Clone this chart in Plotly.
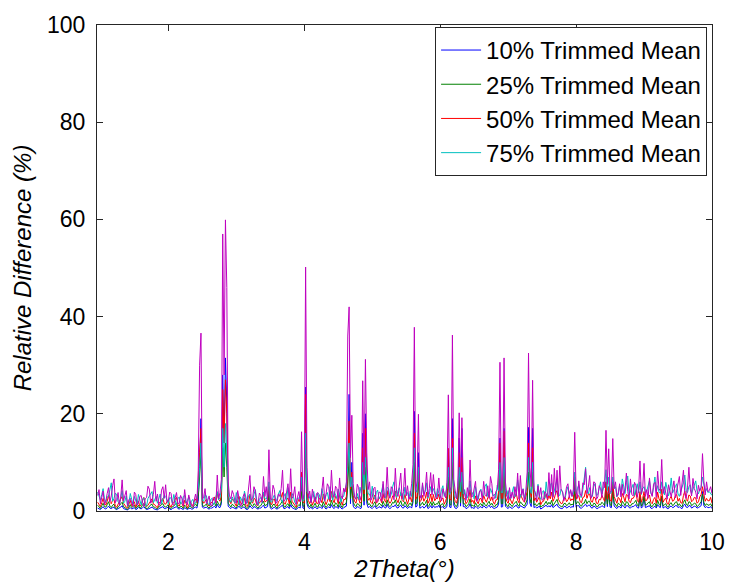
import plotly.graph_objects as go

# sample grid of 2Theta (degrees): 0.96, 0.98, ..., 10.00
X_START = 0.96
X_STEP = 0.02
N_PTS = 453
two_theta = [round(X_START + X_STEP * k, 2) for k in range(N_PTS)]

# relative differences (%); each row = 1 degree (50 samples)
mean10_rows = [  # blue
    [0.6, 0.4, 0.3, 0.6, 0.9, 0.5, 0.4, 0.7, 1.0, 0.6, 0.5, 0.7, 0.8, 0.4, 0.3, 0.5, 0.6, 0.8, 1.1, 0.5, 0.4, 0.3, 0.2, 0.5, 0.7, 0.4, 0.5, 0.7, 0.3, 0.4, 0.8, 0.5, 0.4, 0.7, 0.9, 0.5, 0.3, 0.4, 0.5, 0.7, 0.8, 0.5, 0.4, 0.3, 0.2, 0.5, 0.6, 0.8, 0.9, 0.5],
    [0.5, 0.7, 0.8, 0.4, 0.3, 0.5, 0.6, 0.8, 0.9, 0.5, 0.4, 0.6, 0.5, 0.3, 0.7, 0.5, 0.3, 0.5, 0.6, 0.4, 0.4, 0.7, 0.8, 0.6, 2.0, 10, 19, 0.8, 0.6, 0.7, 0.8, 0.5, 0.4, 0.6, 0.6, 0.8, 1.0, 0.6, 1.4, 0.8, 0.7, 1.5, 28, 14, 31.5, 22, 1.0, 0.7, 0.5, 0.8],
    [0.7, 0.5, 0.4, 0.7, 1.0, 0.6, 0.5, 0.8, 0.8, 0.4, 0.3, 0.5, 1.1, 0.7, 0.5, 0.9, 0.8, 0.5, 0.4, 0.6, 0.6, 0.9, 1.2, 0.6, 0.7, 0.9, 4, 0.6, 0.4, 0.7, 0.8, 0.5, 0.4, 0.6, 0.7, 1.0, 1.2, 0.5, 0.5, 0.8, 0.9, 0.5, 1.3, 0.7, 0.5, 0.4, 0.3, 0.6, 0.8, 0.6],
    [6, 0.6, 0.5, 25.5, 1.5, 0.7, 0.5, 0.8, 0.4, 0.6, 0.9, 0.5, 0.5, 0.8, 0.8, 0.5, 1.1, 0.7, 0.4, 0.6, 0.9, 0.6, 1.3, 0.7, 0.5, 0.9, 0.8, 0.5, 1.1, 0.6, 0.4, 0.7, 0.8, 1.0, 8, 24, 1.5, 10, 1.0, 0.6, 0.5, 0.9, 0.8, 0.5, 0.6, 16, 1.2, 20, 1.6, 0.7],
    [0.9, 0.6, 0.5, 0.8, 1.1, 0.5, 0.6, 0.9, 0.8, 0.6, 1.2, 0.7, 0.6, 1.4, 0.7, 0.5, 0.7, 1.0, 0.9, 1.3, 0.7, 0.6, 1.0, 1.2, 0.7, 0.6, 1.1, 0.7, 0.5, 0.8, 0.9, 0.6, 1.8, 20.5, 0.8, 1.0, 12, 0.6, 0.7, 1.0, 0.6, 0.8, 1.3, 0.5, 0.7, 1.1, 0.6, 1.1, 0.7, 0.9],
    [0.8, 1.2, 0.6, 0.8, 0.9, 0.5, 0.6, 1.0, 12, 0.8, 0.7, 19, 1.2, 0.6, 0.5, 0.9, 15, 1.0, 17, 0.9, 0.9, 0.5, 0.6, 0.9, 1.5, 0.6, 0.7, 0.5, 1.0, 0.7, 0.5, 0.8, 0.9, 0.6, 1.1, 0.8, 0.6, 0.9, 1.2, 0.7, 1.0, 0.6, 0.5, 0.7, 0.8, 1.4, 15, 0.8, 0.9, 17],
    [1.0, 0.7, 0.5, 0.9, 0.6, 0.5, 0.8, 1.0, 1.2, 0.7, 0.6, 1.1, 0.9, 0.7, 0.6, 1.0, 1.4, 17.2, 1.6, 0.9, 17, 0.7, 0.9, 0.6, 0.8, 1.0, 0.4, 0.6, 0.7, 0.9, 1.2, 0.8, 1.1, 0.8, 1.3, 0.7, 0.9, 1.2, 1.4, 0.8, 0.6, 0.5, 0.5, 0.9, 1.0, 0.6, 0.8, 1.0, 0.7, 0.9],
    [0.8, 6, 0.8, 1.1, 1.1, 0.6, 0.6, 0.9, 1.0, 1.4, 0.9, 1.2, 1.2, 0.7, 0.6, 1.0, 0.9, 0.5, 0.5, 0.8, 0.8, 1.1, 0.9, 0.7, 6, 0.9, 5, 0.8, 0.7, 6, 1.0, 0.8, 0.5, 0.9, 0.9, 0.6, 1.2, 1.0, 0.6, 1.1, 1.1, 0.7, 0.6, 0.9, 0.9, 1.1, 1.3, 0.7, 0.6, 3],
    [0.6, 0.9, 3, 0.7, 0.8, 1.0, 1.1, 0.6, 0.5, 0.8, 1.0, 0.6, 1.3, 0.9, 0.7, 3, 0.6, 0.8, 0.9, 0.5, 0.5, 0.9, 1.0, 0.7, 0.8, 1.1, 1.1, 0.7, 0.9, 0.6, 0.5, 1.1, 1.4, 0.8, 0.7, 1.1, 1.1, 0.6, 0.8, 1.0, 0.9, 0.6, 0.7, 1.0, 1.1, 4, 1.1, 0.7, 0.9, 0.7],
    [0.7, 0.9, 0.5],
]
mean25_rows = [  # green
    [1.2, 0.8, 0.5, 1.1, 1.6, 0.9, 0.8, 1.3, 1.9, 1.0, 0.7, 1.2, 1.4, 0.6, 0.4, 0.9, 1.1, 1.5, 1.8, 0.9, 0.6, 0.5, 0.3, 0.9, 1.3, 0.7, 0.9, 1.2, 0.5, 0.8, 1.2, 0.6, 0.7, 1.3, 1.5, 0.9, 0.4, 0.7, 0.9, 1.3, 1.4, 0.8, 0.8, 0.5, 0.4, 1.0, 1.0, 1.4, 1.5, 0.9],
    [0.8, 1.1, 1.3, 0.7, 0.5, 0.9, 1.0, 1.4, 1.6, 0.8, 0.6, 1.0, 0.9, 0.5, 1.2, 0.9, 0.4, 0.8, 1.1, 0.7, 0.6, 1.2, 1.4, 1.0, 3.0, 7, 12, 1.3, 0.9, 1.2, 1.4, 0.8, 0.6, 1.0, 1.0, 1.3, 1.7, 1.0, 2.0, 1.4, 1.1, 2.0, 13, 7, 14, 9, 1.6, 1.2, 0.8, 1.4],
    [1.2, 0.9, 0.6, 1.2, 1.7, 1.0, 0.8, 1.3, 1.4, 0.7, 0.5, 0.9, 1.9, 1.2, 0.9, 1.5, 1.3, 0.8, 0.6, 1.0, 1.1, 1.6, 2.0, 1.1, 1.2, 1.4, 3, 1.0, 0.7, 1.3, 1.4, 0.8, 0.6, 1.1, 1.2, 1.6, 2.1, 0.9, 0.8, 1.3, 1.5, 0.9, 2.2, 1.2, 0.9, 0.6, 0.5, 1.0, 1.3, 1.1],
    [4, 1.1, 0.9, 15, 2.2, 1.2, 0.8, 1.4, 0.7, 1.1, 1.6, 0.9, 0.8, 1.5, 1.3, 0.9, 1.9, 1.2, 0.7, 1.1, 1.5, 1.0, 2.2, 1.3, 0.9, 1.7, 1.4, 0.8, 1.9, 1.1, 0.7, 1.4, 1.3, 1.8, 5, 12, 2.5, 5, 1.8, 1.2, 0.9, 1.5, 1.4, 0.9, 1.1, 8, 2.0, 9, 2.6, 1.3],
    [1.5, 1.0, 0.9, 1.5, 1.9, 0.9, 1.1, 1.6, 1.4, 1.0, 2.0, 1.3, 1.0, 2.3, 1.2, 0.9, 1.2, 1.8, 1.6, 2.3, 1.3, 1.0, 1.7, 2.1, 1.2, 1.1, 1.9, 1.3, 0.8, 1.4, 1.6, 1.1, 2.6, 10, 1.4, 1.8, 6, 1.1, 1.3, 1.8, 1.2, 1.5, 2.2, 0.9, 1.2, 1.9, 1.1, 1.9, 1.2, 1.5],
    [1.4, 2.0, 1.0, 1.4, 1.5, 0.8, 1.1, 1.8, 7, 1.4, 1.2, 10, 2.0, 1.1, 0.9, 1.6, 7, 1.7, 6, 1.5, 1.5, 0.9, 1.1, 1.5, 2.5, 1.0, 1.2, 0.9, 1.7, 1.1, 0.9, 1.4, 1.5, 1.0, 1.8, 1.3, 1.0, 1.6, 2.0, 1.2, 1.6, 1.1, 0.8, 1.3, 1.3, 2.2, 8, 1.5, 1.5, 9],
    [1.7, 1.1, 0.9, 1.6, 1.1, 0.9, 1.4, 1.7, 2.0, 1.2, 1.0, 1.9, 1.5, 1.2, 1.0, 1.7, 2.3, 8, 2.5, 1.6, 8, 1.2, 1.5, 1.0, 1.4, 1.7, 0.8, 1.1, 1.1, 1.5, 2.0, 1.3, 1.8, 1.4, 2.2, 1.1, 1.5, 2.1, 2.4, 1.4, 1.1, 0.9, 0.9, 1.5, 1.6, 1.1, 1.3, 1.7, 1.2, 1.4],
    [1.3, 4, 1.4, 1.9, 1.8, 1.1, 1.0, 1.6, 1.6, 2.4, 1.5, 2.0, 2.0, 1.2, 1.0, 1.6, 1.5, 0.9, 0.9, 1.4, 1.3, 1.8, 1.5, 1.1, 4, 1.4, 3.5, 1.3, 1.1, 4, 1.7, 1.3, 0.9, 1.6, 1.4, 1.0, 2.0, 1.6, 1.1, 1.9, 1.8, 1.1, 1.0, 1.5, 1.5, 1.8, 2.2, 1.2, 1.0, 3],
    [1.0, 1.5, 3, 1.2, 1.3, 1.7, 1.9, 1.0, 0.9, 1.4, 1.6, 0.9, 2.2, 1.4, 1.1, 3, 1.0, 1.3, 1.5, 0.9, 0.8, 1.5, 1.7, 1.1, 1.3, 1.8, 1.9, 1.1, 1.5, 1.0, 0.9, 1.8, 2.3, 1.4, 1.1, 1.9, 1.8, 1.1, 1.3, 1.6, 1.5, 0.9, 1.1, 1.6, 1.9, 3.5, 1.8, 1.1, 1.5, 1.2],
    [1.2, 1.5, 0.9],
]
mean50_rows = [  # red
    [1.8, 1.2, 0.9, 1.7, 2.6, 1.5, 1.2, 2.0, 3.2, 1.8, 1.5, 2.3, 2.4, 1.0, 0.8, 1.4, 1.9, 2.5, 3.0, 1.6, 1.1, 0.8, 0.6, 1.5, 2.2, 1.1, 1.4, 1.9, 0.8, 1.3, 2.0, 1.0, 1.2, 2.1, 2.8, 1.5, 0.9, 1.2, 1.6, 2.2, 2.5, 1.4, 1.3, 0.9, 0.7, 1.6, 1.8, 2.2, 2.6, 1.5],
    [1.4, 1.9, 2.3, 1.2, 0.8, 1.5, 1.7, 2.4, 2.8, 1.3, 1.0, 1.8, 1.5, 0.9, 2.2, 1.6, 0.7, 1.2, 1.9, 1.4, 1.1, 2.0, 2.5, 1.7, 5.0, 12, 17, 2.1, 1.6, 2.0, 2.4, 1.3, 1.0, 1.6, 1.8, 2.2, 2.9, 1.8, 3.6, 2.4, 2.0, 3.2, 25, 14, 27, 20, 3.0, 2.1, 1.5, 2.4],
    [2.2, 1.5, 1.0, 2.1, 3.0, 1.8, 1.4, 2.2, 2.6, 1.2, 0.9, 1.6, 3.4, 2.0, 1.6, 2.6, 2.4, 1.3, 1.1, 1.8, 1.9, 2.7, 3.6, 1.9, 2.0, 2.4, 5, 1.7, 1.3, 2.2, 2.5, 1.4, 1.0, 1.9, 2.2, 2.8, 3.8, 1.6, 1.4, 2.3, 2.7, 1.5, 3.9, 2.0, 1.6, 1.1, 0.8, 1.7, 2.4, 1.9],
    [8, 1.9, 1.6, 24, 4.0, 2.2, 1.5, 2.4, 1.2, 2.0, 2.9, 1.6, 1.5, 2.6, 2.4, 1.7, 3.5, 2.2, 1.3, 2.0, 2.8, 1.9, 4.0, 2.3, 1.7, 3.0, 2.6, 1.5, 3.4, 2.1, 1.2, 2.4, 2.3, 3.0, 9, 18.5, 4.5, 8, 3.2, 2.0, 1.6, 2.9, 2.5, 1.6, 1.9, 13, 3.5, 17, 5, 2.2],
    [2.6, 1.8, 1.5, 2.7, 3.3, 1.6, 1.9, 2.8, 2.4, 1.7, 3.6, 2.2, 1.8, 4.2, 2.1, 1.6, 2.0, 3.1, 2.9, 4.1, 2.3, 1.7, 3.0, 3.8, 2.2, 1.9, 3.4, 2.2, 1.4, 2.5, 2.8, 1.9, 4.5, 16, 2.4, 3.0, 8, 1.9, 2.2, 3.2, 2.0, 2.6, 3.9, 1.6, 2.1, 3.5, 1.9, 3.4, 2.1, 2.6],
    [2.5, 3.5, 1.8, 2.4, 2.7, 1.4, 2.0, 3.1, 12.9, 2.5, 2.2, 14.9, 3.4, 2.0, 1.6, 2.8, 12, 3.0, 11, 2.6, 2.6, 1.5, 1.9, 2.6, 4.4, 1.8, 2.2, 1.5, 3.1, 2.0, 1.5, 2.5, 2.6, 1.7, 3.2, 2.4, 1.8, 2.7, 3.5, 2.1, 2.9, 1.9, 1.4, 2.3, 2.3, 4.0, 14, 2.6, 2.6, 16.5],
    [3.0, 2.0, 1.6, 2.8, 1.9, 1.5, 2.4, 3.0, 3.6, 2.2, 1.7, 3.4, 2.6, 2.2, 1.8, 2.9, 4.0, 14, 4.5, 2.8, 13, 2.1, 2.7, 1.8, 2.4, 3.0, 1.3, 1.9, 2.0, 2.6, 3.5, 2.2, 3.2, 2.5, 3.9, 2.0, 2.6, 3.7, 4.2, 2.4, 1.9, 1.5, 1.6, 2.7, 2.8, 1.9, 2.3, 3.0, 2.1, 2.5],
    [2.2, 7, 2.4, 3.3, 3.1, 1.9, 1.7, 2.8, 2.9, 4.2, 2.6, 3.5, 3.5, 2.0, 1.8, 2.9, 2.7, 1.6, 1.5, 2.4, 2.3, 3.2, 2.6, 2.0, 6, 2.4, 5, 2.2, 2.0, 6, 3.0, 2.3, 1.6, 2.8, 2.5, 1.7, 3.6, 2.9, 1.9, 3.4, 3.2, 2.0, 1.7, 2.6, 2.6, 3.1, 4, 2.2, 1.8, 4],
    [1.8, 2.6, 4, 2.1, 2.2, 3.0, 3.3, 1.8, 1.5, 2.4, 2.8, 1.6, 3.9, 2.5, 2.0, 4.5, 1.8, 2.3, 2.7, 1.5, 1.4, 2.6, 3.0, 2.0, 2.2, 3.1, 3.4, 2.0, 2.6, 1.7, 1.6, 3.2, 4.1, 2.4, 2.0, 3.3, 3.1, 1.9, 2.2, 2.8, 2.7, 1.6, 1.9, 2.9, 3.4, 5, 3.2, 2.0, 2.6, 2.1],
    [2.1, 2.8, 1.6],
]
mean75_rows = [  # cyan
    [3.9, 2.8, 2.2, 3.4, 4.6, 2.5, 1.8, 2.9, 3.0, 4.4, 5.8, 2.0, 2.6, 3.7, 3.3, 1.9, 1.5, 2.8, 4.2, 1.6, 2.0, 3.1, 0.9, 1.8, 3.6, 2.4, 1.4, 3.0, 2.3, 1.3, 3.4, 2.2, 1.2, 2.5, 2.7, 1.4, 1.0, 2.6, 3.1, 3.8, 4.0, 1.7, 2.2, 3.0, 1.6, 2.7, 3.5, 1.5, 2.4, 3.3],
    [3.0, 2.1, 1.5, 2.8, 2.6, 1.6, 3.4, 2.2, 1.1, 2.5, 2.9, 1.4, 1.8, 3.0, 3.2, 1.7, 2.1, 2.9, 1.0, 2.0, 2.4, 1.5, 1.6, 2.6, 4.6, 9, 14, 2.2, 2.0, 3.4, 3.1, 1.6, 1.2, 2.3, 2.6, 1.3, 1.5, 2.9, 4.0, 2.3, 2.8, 4.5, 17, 9, 18, 12, 3.6, 2.4, 1.8, 2.9],
    [2.4, 1.6, 3.8, 2.5, 1.4, 2.9, 2.2, 1.5, 4.1, 2.6, 1.6, 3.1, 3.5, 1.8, 2.0, 3.4, 4.4, 2.2, 1.2, 2.4, 2.8, 1.7, 3.9, 2.6, 2.4, 3.2, 6.0, 2.0, 1.8, 2.7, 3.3, 1.9, 2.5, 3.5, 4.2, 2.3, 1.7, 3.0, 3.6, 2.2, 4.8, 2.5, 2.1, 3.6, 3.0, 1.8, 1.3, 2.7, 2.6, 3.3],
    [7, 2.0, 2.3, 16, 4.0, 3.5, 2.4, 1.9, 3.2, 4.0, 2.1, 2.6, 3.7, 3.4, 2.2, 4.6, 3.0, 2.0, 3.4, 3.8, 2.4, 5.0, 3.1, 2.2, 4.0, 3.3, 2.6, 4.5, 3.5, 1.8, 2.9, 3.0, 4.1, 5.5, 9, 14, 5.0, 7, 4.2, 2.8, 2.5, 3.6, 2.4, 4.9, 3.6, 10, 4.4, 11, 6, 3.5],
    [3.5, 2.6, 5.1, 3.2, 2.4, 3.8, 4.3, 2.5, 3.0, 4.2, 5.5, 3.0, 2.6, 4.9, 4.6, 2.8, 3.4, 5.0, 6.0, 3.3, 2.8, 4.2, 4.8, 3.1, 3.6, 2.2, 4.9, 3.4, 3.8, 2.6, 4.1, 3.0, 6.5, 13, 4.4, 3.8, 9, 3.2, 2.7, 5.4, 3.5, 4.0, 5.8, 2.6, 3.4, 5.0, 3.9, 4.6, 3.4, 2.8],
    [4.6, 3.9, 2.8, 4.4, 5.2, 3.0, 3.6, 4.8, 9, 3.4, 4.1, 13, 5.0, 3.0, 2.6, 4.4, 9, 4.0, 8, 3.5, 4.4, 2.7, 2.7, 3.9, 6.2, 3.2, 3.8, 2.5, 5.0, 3.3, 2.4, 4.0, 4.5, 2.9, 3.2, 5.1, 5.6, 3.0, 2.9, 4.6, 4.0, 3.1, 3.5, 2.6, 5.3, 4.2, 10, 3.8, 3.8, 11],
    [4.4, 3.0, 4.2, 2.6, 2.6, 3.9, 5.0, 2.9, 3.3, 6.4, 4.0, 2.8, 3.6, 4.6, 2.5, 3.7, 5.2, 11, 4.5, 3.6, 10, 4.8, 3.4, 3.0, 5.5, 2.9, 2.4, 3.8, 4.2, 2.6, 6.0, 3.4, 3.1, 5.2, 5.8, 3.0, 4.4, 5.9, 6.6, 3.3, 3.2, 4.5, 4.0, 2.6, 2.7, 4.1, 5.0, 3.6, 4.2, 3.0],
    [3.5, 8, 3.6, 4.6, 5.4, 2.9, 2.8, 4.4, 6.2, 9.0, 4.2, 3.5, 4.8, 3.0, 3.0, 5.1, 5.6, 3.2, 3.4, 4.7, 6.0, 3.5, 4.4, 5.6, 8.5, 4.2, 7, 3.6, 3.8, 7, 4.6, 5.0, 2.9, 3.8, 5.3, 3.4, 6.6, 4.9, 3.6, 5.8, 7.2, 3.3, 4.0, 5.1, 5.5, 3.2, 4.4, 5.6, 3.7, 6],
    [3.4, 4.6, 5, 3.8, 4.1, 5.5, 6.3, 3.6, 3.2, 4.8, 7.0, 4.1, 5.2, 3.9, 3.6, 6, 4.4, 3.3, 5.9, 4.6, 3.1, 4.2, 6.8, 3.7, 4.2, 5.0, 5.6, 3.5, 3.0, 4.3, 4.9, 5.8, 7.4, 4.0, 3.8, 5.0, 5.4, 3.6, 4.6, 5.5, 6.2, 4.1, 3.5, 4.4, 4.9, 7, 5.2, 3.9, 4.6, 3.8],
    [4.0, 3.5, 3.2],
]
untrimmed_rows = [  # magenta (not listed in the legend)
    [3.2, 4.4, 1.5, 2.9, 4.1, 1.3, 2.0, 3.6, 4.8, 1.9, 3.1, 5.2, 6.6, 1.7, 2.4, 3.8, 1.2, 2.9, 6.4, 2.1, 3.0, 4.2, 1.1, 2.3, 2.6, 1.5, 0.9, 3.9, 3.4, 1.2, 1.6, 3.0, 3.2, 1.8, 1.0, 2.5, 2.8, 5.1, 4.5, 1.6, 2.2, 3.4, 6.1, 2.0, 3.5, 1.2, 1.4, 4.3, 5.0, 2.6],
    [5.4, 1.8, 2.1, 3.9, 3.6, 1.4, 1.2, 2.7, 3.8, 1.5, 1.6, 3.2, 2.5, 1.1, 4.4, 2.0, 1.3, 3.3, 2.2, 1.0, 0.8, 2.6, 3.5, 1.9, 8.4, 30, 36.6, 2.4, 2.9, 4.6, 1.5, 2.2, 3.1, 1.2, 1.0, 2.8, 2.4, 1.6, 7.4, 2.5, 3.8, 6.5, 57, 28, 59.9, 46, 6.0, 3.1, 2.5, 4.2],
    [3.4, 2.0, 1.6, 4.2, 2.9, 1.1, 1.2, 3.0, 3.6, 1.4, 2.0, 4.8, 7.3, 2.2, 2.6, 5.0, 4.1, 1.3, 1.5, 3.7, 3.2, 1.8, 7.1, 3.0, 5.0, 2.1, 12.6, 2.7, 2.2, 5.3, 4.4, 1.6, 1.8, 3.5, 3.0, 4.6, 8.4, 2.0, 2.4, 3.9, 5.6, 2.3, 8.7, 2.6, 3.1, 5.0, 1.4, 2.8, 4.0, 1.9],
    [16.3, 2.4, 3.5, 50.2, 9, 2.6, 4.1, 1.7, 4.5, 2.8, 1.8, 3.6, 3.8, 1.5, 2.2, 4.3, 7.0, 2.1, 3.4, 5.6, 5.0, 2.3, 8.4, 3.3, 2.8, 5.1, 4.6, 2.0, 6.8, 3.2, 2.5, 4.7, 3.9, 6.0, 36, 42, 11, 19.7, 5.6, 3.0, 2.4, 5.5, 4.8, 2.2, 3.2, 26.8, 7.5, 31.2, 12, 4.4],
    [6.0, 2.2, 2.8, 4.6, 4.9, 1.8, 2.1, 3.9, 3.8, 2.0, 6.1, 2.7, 3.2, 9.0, 3.4, 2.6, 5.0, 4.4, 2.3, 8.8, 3.6, 3.0, 5.4, 7.8, 2.5, 4.0, 8.8, 3.1, 5.2, 2.4, 3.1, 5.6, 9.5, 37.8, 4.0, 6.2, 19.9, 3.4, 2.6, 5.8, 3.0, 4.4, 8.0, 2.9, 4.6, 7.9, 3.3, 7.5, 4.2, 2.6],
    [3.0, 6.8, 3.2, 2.1, 4.6, 3.5, 2.7, 5.9, 23.9, 3.8, 5.0, 36.2, 6.5, 4.3, 2.5, 5.1, 20.2, 6.0, 19.2, 4.8, 3.6, 2.2, 4.8, 3.0, 10.5, 2.8, 3.1, 4.5, 6.1, 2.0, 2.8, 4.1, 4.2, 2.3, 6.1, 3.4, 3.0, 5.2, 2.6, 7.1, 5.6, 2.4, 2.6, 4.0, 4.4, 8.5, 30.6, 4.2, 5.2, 31.5],
    [6.0, 3.4, 2.2, 4.8, 2.6, 3.9, 2.6, 5.0, 3.1, 7.8, 2.4, 7.3, 3.2, 4.5, 2.0, 4.1, 8.0, 32.5, 9.0, 5.0, 26.9, 4.4, 3.8, 2.1, 5.2, 3.0, 4.8, 2.2, 2.4, 4.0, 3.6, 2.5, 7.9, 3.1, 7.5, 2.8, 8.8, 3.4, 8.4, 2.9, 9.3, 4.2, 4.0, 2.1, 3.2, 5.0, 5.6, 2.7, 4.4, 3.0],
    [4.5, 16.2, 4.1, 2.6, 6.2, 3.5, 3.0, 5.8, 5.4, 8.7, 3.6, 4.9, 7.3, 2.6, 3.4, 6.0, 5.8, 2.4, 2.9, 5.2, 4.6, 2.8, 6.0, 4.8, 16.6, 5.5, 12.8, 3.8, 4.2, 14.9, 4.6, 6.0, 3.0, 3.3, 5.6, 2.9, 5.5, 3.2, 4.4, 7.8, 4.0, 2.5, 6.6, 3.4, 3.1, 5.9, 5.2, 2.8, 4.5, 10.3],
    [3.5, 4.8, 9.8, 3.0, 4.4, 2.6, 6.8, 3.9, 3.0, 5.5, 5.9, 2.8, 8.2, 4.6, 4.1, 10.6, 3.6, 5.0, 3.8, 2.4, 5.4, 3.7, 2.9, 4.5, 6.2, 2.7, 4.0, 6.0, 7.1, 3.2, 5.6, 8.4, 3.4, 2.6, 4.9, 9.0, 4.5, 3.1, 6.7, 4.6, 3.9, 2.5, 5.3, 4.1, 4.8, 11.8, 6.2, 3.3, 6.0, 4.0],
    [4.2, 5.0, 3.6],
]

series_names = ["10% Trimmed Mean", "25% Trimmed Mean", "50% Trimmed Mean", "75% Trimmed Mean", "Untrimmed"]
series_rows = [mean10_rows, mean25_rows, mean50_rows, mean75_rows, untrimmed_rows]
series_colors = ["#0000FF", "#008000", "#FF0000", "#00BFBF", "#BF00BF"]
series_in_legend = [True, True, True, True, False]

series_values = []
for name, rows in zip(series_names, series_rows):
    for i, r in enumerate(rows[:-1]):
        assert len(r) == 50, (name, i, len(r))
    vals = [v for r in rows for v in r]
    assert len(vals) == N_PTS, (name, len(vals))
    series_values.append(vals)

x_ticks = [2, 4, 6, 8, 10]
y_ticks = [0, 20, 40, 60, 80, 100]

FONT = "Liberation Sans, Arial, sans-serif"

fig = go.Figure()
for name, vals, col, leg in zip(series_names, series_values, series_colors, series_in_legend):
    fig.add_trace(go.Scatter(
        x=two_theta, y=vals, mode="lines", name=name, showlegend=leg,
        line=dict(color=col, width=1),
    ))

axis_common = dict(
    showline=True, linecolor="#262626", linewidth=1, mirror="ticks",
    ticks="inside", ticklen=6, tickwidth=1, tickcolor="#262626",
    showgrid=False, zeroline=False,
    tickfont=dict(family=FONT, size=23, color="#000000"),
)

fig.update_xaxes(
    range=[0.95, 10], tickvals=x_ticks, ticktext=[str(t) for t in x_ticks],
    title=dict(text="<i>2Theta(°)</i>", font=dict(family=FONT, size=24, color="#000000"), standoff=4),
    ticklabelstandoff=10,
    **axis_common,
)
fig.update_yaxes(
    range=[0, 100], tickvals=y_ticks, ticktext=[str(t) for t in y_ticks],
    title=dict(text="<i>Relative Difference (%)</i>", font=dict(family=FONT, size=24, color="#000000"), standoff=8),
    ticklabelstandoff=6,
    **axis_common,
)

fig.update_layout(
    width=737, height=587,
    margin=dict(l=97, r=15, t=20, b=70),
    paper_bgcolor="white", plot_bgcolor="white",
    showlegend=True,
    legend=dict(
        x=0.992, y=0.996, xanchor="right", yanchor="top",
        bgcolor="white", bordercolor="#262626", borderwidth=1,
        font=dict(family=FONT, size=24, color="#000000"),
        tracegroupgap=0, itemwidth=40,
    ),
)

fig.write_html("out.html")
